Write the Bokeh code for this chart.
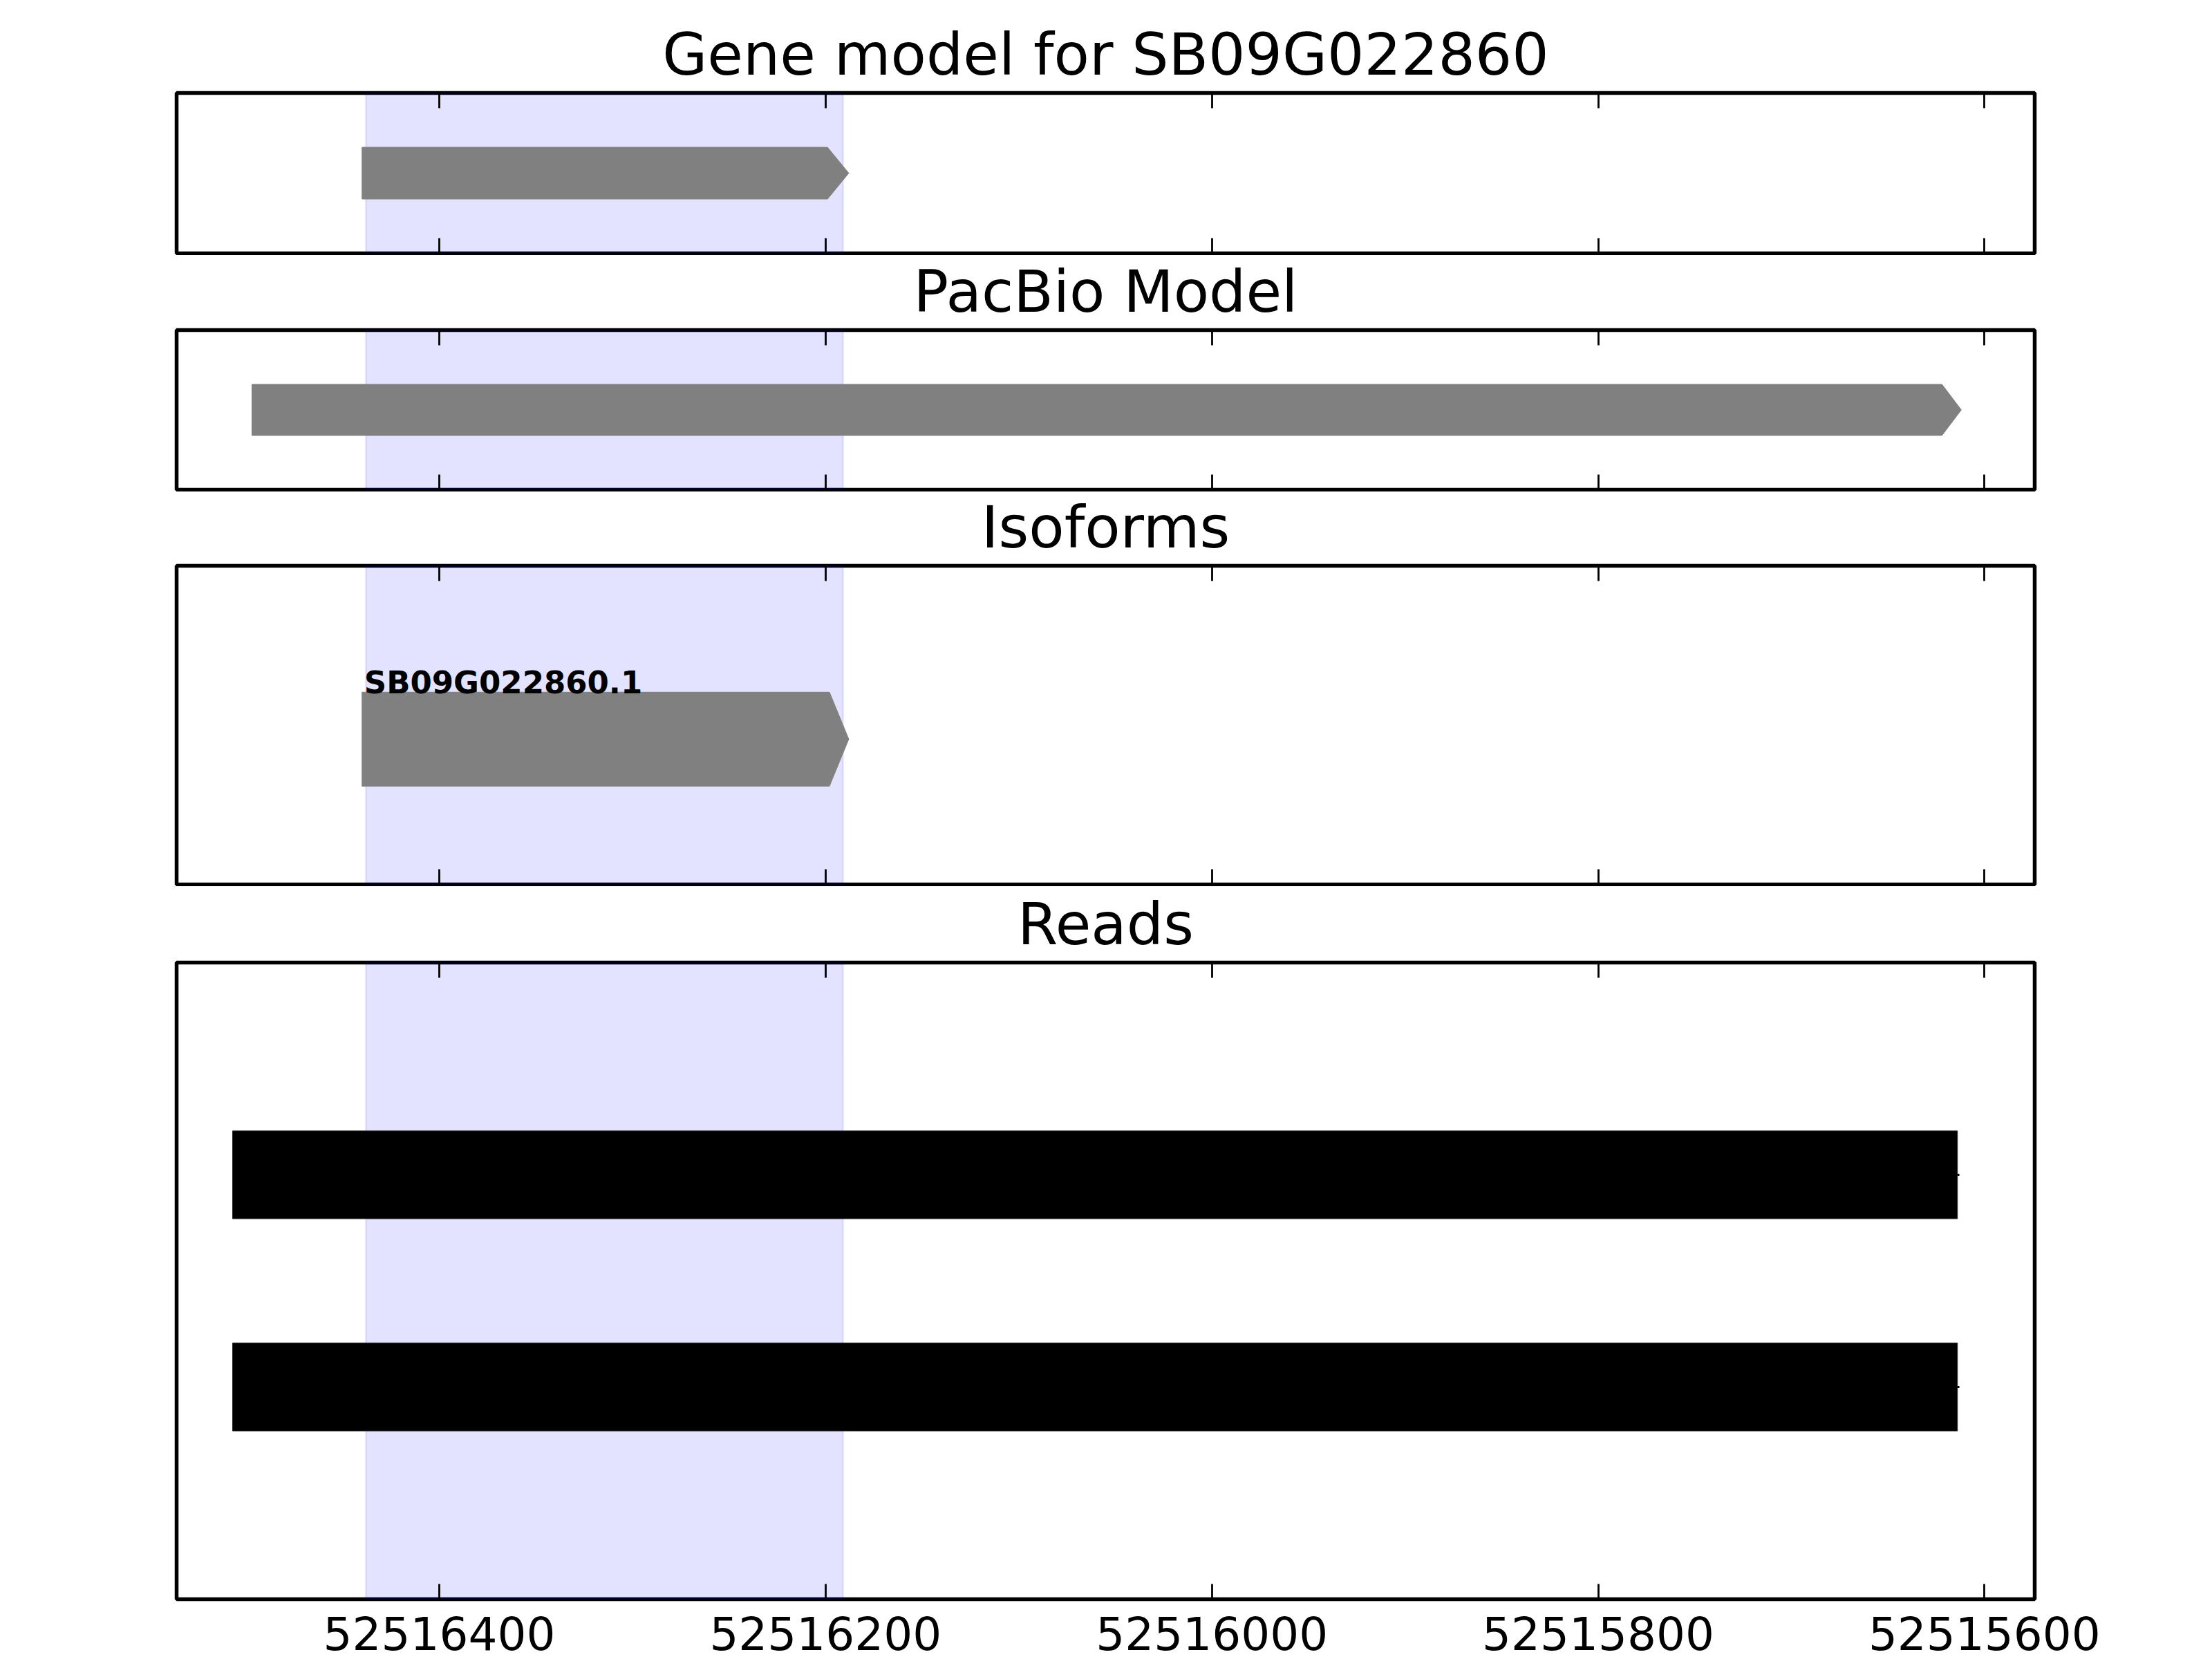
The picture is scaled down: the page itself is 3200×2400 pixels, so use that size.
from bokeh.plotting import figure
from bokeh.models import Range1d, FixedTicker, LinearAxis, BasicTickFormatter, BoxAnnotation, ColumnDataSource
from bokeh.layouts import column
from bokeh.embed import file_html
from bokeh.resources import INLINE
from bokeh.core.properties import value

# ---------------- data ----------------
gene_name = "SB09G022860"
titles = ["Gene model for SB09G022860", "PacBio Model", "Isoforms", "Reads"]
x_ticks = [52516400, 52516200, 52516000, 52515800, 52515600]
x_start, x_end = 52516536, 52515574            # reversed genomic axis

highlight_start, highlight_end = 52516438, 52516191

gene_model_start = [52516440]
gene_model_end = [52516188]

pacbio_start = [52516497]
pacbio_end = [52515612]

isoform_names = ["SB09G022860.1"]
isoform_start = [52516440]
isoform_end = [52516188]

read_rows = [2, 1]
read_start = [52516507, 52516507]
read_block_end = [52515614, 52515614]
read_line_end = [52515613, 52515613]

# ---------------- styling ----------------
FONT = "DejaVu Sans"
LEFT, RIGHT = 255, 257
FRAME_W = 2688
GRAY = "#808080"


def arrow_polys(starts, ends, yc, half, head):
    xs, ys = [], []
    for s, e in zip(starts, ends):
        hb = e + head  # head base (axis reversed: decreasing coordinates go right)
        xs.append([s, hb, e, hb, s])
        ys.append([yc - half, yc - half, yc, yc + half, yc + half])
    return xs, ys


def make_fig(title, frame_h, top, bottom, y0, y1, show_labels=False, margin=(0, 0, 0, 0)):
    p = figure(output_backend="svg", toolbar_location=None,
               frame_width=FRAME_W, frame_height=frame_h,
               min_border_left=LEFT, min_border_right=RIGHT,
               min_border_top=top, min_border_bottom=bottom,
               x_range=Range1d(x_start, x_end), y_range=Range1d(y0, y1),
               x_axis_location=None, y_axis_location=None,
               background_fill_color="white", border_fill_color=None,
               margin=margin)
    p.grid.visible = False
    p.outline_line_color = "black"
    p.outline_line_width = 5.5
    p.outline_line_alpha = 1.0
    p.title.text = title
    p.title.text_font = FONT
    p.title.text_font_size = "84px"
    p.title.text_font_style = "normal"
    p.title.text_color = "black"
    p.title.align = "center"
    p.title.standoff = 14
    ticker = FixedTicker(ticks=x_ticks)
    for loc in ("below", "above"):
        ax = LinearAxis(ticker=ticker, formatter=BasicTickFormatter(use_scientific=False))
        ax.axis_line_color = None
        ax.major_tick_in = 22
        ax.major_tick_out = 0
        ax.minor_tick_in = 0
        ax.minor_tick_out = 0
        ax.major_tick_line_color = "black"
        ax.major_tick_line_width = 2.8
        if loc == "below" and show_labels:
            ax.major_label_text_font = FONT
            ax.major_label_text_font_size = "66px"
            ax.major_label_text_color = "black"
            ax.major_label_standoff = 24
        else:
            ax.major_label_text_font_size = "1px"
            ax.major_label_text_color = None
            ax.major_label_standoff = 0
        p.add_layout(ax, loc)
    box = BoxAnnotation(left=highlight_start, right=highlight_end,
                        fill_color="#0000ff", fill_alpha=0.11,
                        line_color="#0000ff", line_alpha=0.08, line_width=3,
                        level="underlay")
    p.add_layout(box)
    return p


# Panel 1: gene model (frame 134..366)
p1 = make_fig(titles[0], 232, 134, 3, 0, 1)
xs, ys = arrow_polys(gene_model_start, gene_model_end, 0.5, 0.1615, 11)
p1.patches(xs, ys, fill_color=GRAY, line_color=GRAY, line_width=1)

# Panel 2: PacBio model (frame 477..708)
p2 = make_fig(titles[1], 231, 116, 3, 0, 1, margin=(-8, 0, 0, 0))
xs, ys = arrow_polys(pacbio_start, pacbio_end, 0.5, 0.16, 10)
p2.patches(xs, ys, fill_color=GRAY, line_color=GRAY, line_width=1)

# Panel 3: isoforms (frame 818..1279)
p3 = make_fig(titles[2], 461, 116, 3, 0, 1, margin=(-9, 0, 0, 0))
iso_c, iso_h = 0.456, 0.1475
xs, ys = arrow_polys(isoform_start, isoform_end, iso_c, iso_h, 10)
p3.patches(xs, ys, fill_color=GRAY, line_color=GRAY, line_width=1)
p3.text(x=isoform_start, y=[iso_c + iso_h] * len(isoform_start), text=isoform_names,
        text_font=value(FONT), text_font_size="45px", text_font_style="bold",
        text_color="black", text_baseline="alphabetic", text_align="left",
        x_offset=3, y_offset=-14)

# Panel 4: reads (frame 1392..2313)
p4 = make_fig(titles[3], 921, 116, 101, 0, 3, show_labels=True, margin=(-6, 0, -14, 0))
src = ColumnDataSource(dict(y=read_rows, left=read_start, right=read_block_end, lend=read_line_end))
p4.segment(x0="left", x1="lend", y0="y", y1="y", source=src, line_color="black", line_width=3)
p4.hbar(y="y", left="left", right="right", height=0.414, source=src,
        fill_color="black", line_color="#222222", line_width=1)

layout = column(p1, p2, p3, p4, spacing=0)
open("out.html", "w").write(file_html(layout, INLINE))
